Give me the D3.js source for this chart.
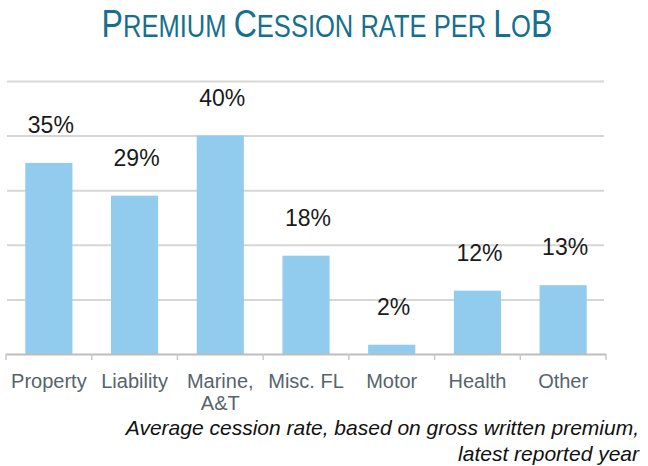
<!DOCTYPE html>
<html>
<head>
<meta charset="utf-8">
<script src="https://cdn.jsdelivr.net/npm/d3@7"></script>
<style>
  body { margin: 0; background: #fff; }
  svg { display: block; font-family: "Liberation Sans", Arial, sans-serif; }
</style>
</head>
<body>
<div id="chart"></div>
<script>
// data
const categories = ["Property", "Liability", "Marine,\nA&T", "Misc. FL", "Motor", "Health", "Other"];
const cessionRate = [0.35, 0.29, 0.40, 0.18, 0.017, 0.116, 0.126];
const gridTicks = [0, 0.1, 0.2, 0.3, 0.4, 0.5];
const titleParts = [["P", "REMIUM "], ["C", "ESSION RATE PER "], ["L", "O"], ["B", ""]];
const noteLines = ["Average cession rate, based on gross written premium,", "latest reported year"];

const width = 648, height = 466;
const margin = {left: 6, right: 42, top: 81, bottom: 112};

const svg = d3.select("#chart").append("svg")
    .attr("width", width)
    .attr("height", height);

let x = d3.scaleBand()
    .domain(categories)
    .range([margin.left, width - margin.right])
    .paddingInner(0.45)
    .paddingOuter(0.225);

let y = d3.scaleLinear()
    .domain([0, 0.5])
    .range([height - margin.bottom, margin.top]);

// title (small caps by hand), squeezed a bit to the reference width
let title = svg.append("text")
    .attr("text-anchor", "middle")
    .style("fill", "#176f8e");
titleParts.forEach(p => {
    title.append("tspan").style("font-size", "39px").text(p[0]);
    if (p[1]) title.append("tspan").style("font-size", "31px").text(p[1]);
});
let titleW = title.node().getComputedTextLength();
title.attr("transform", "translate(327,37) scale(" + (451 / titleW) + ",1)");

// gridlines
svg.append("g")
    .selectAll("line")
    .data(gridTicks.slice(1))
    .enter()
    .append("line")
    .attr("x1", margin.left + 1)
    .attr("x2", width - margin.right - 2)
    .attr("y1", d => y(d) + 0.5)
    .attr("y2", d => y(d) + 0.5)
    .style("stroke", "#d6d6d6")
    .style("stroke-width", 2);

// bars
svg.append("g")
    .selectAll("rect")
    .data(cessionRate)
    .enter()
    .append("rect")
    .attr("x", (d, i) => x(categories[i]))
    .attr("y", d => y(d))
    .attr("width", x.bandwidth())
    .attr("height", d => y(0) - y(d))
    .style("fill", "#91cbee");

// x axis
let axis = svg.append("g")
    .attr("transform", "translate(0," + y(0) + ")")
    .call(d3.axisBottom(x).tickSize(0).tickFormat(""));
axis.select(".domain").remove();
axis.append("line")
    .attr("x1", margin.left)
    .attr("x2", width - margin.right)
    .attr("y1", 0.5).attr("y2", 0.5)
    .style("stroke", "#bdbdbd")
    .style("stroke-width", 2);
let bounds = categories.map(c => x(c) - x.step() * x.paddingInner() / 2);
bounds.push(width - margin.right);
bounds[0] = margin.left;
axis.selectAll(".sep")
    .data(bounds)
    .enter()
    .append("line")
    .attr("x1", d => d).attr("x2", d => d)
    .attr("y1", 0).attr("y2", 6)
    .style("stroke", "#c8c8c8")
    .style("stroke-width", 1.5);

// category labels
categories.forEach(c => {
    let t = svg.append("text")
        .attr("x", x(c) + x.bandwidth() / 2)
        .attr("y", 388)
        .attr("text-anchor", "middle")
        .style("font-size", "20px")
        .style("fill", "#56646e");
    c.split("\n").forEach((line, j) => {
        t.append("tspan")
            .attr("x", x(c) + x.bandwidth() / 2)
            .attr("dy", j == 0 ? 0 : 22)
            .text(line);
    });
});

// value labels
svg.append("g")
    .selectAll("text")
    .data(cessionRate)
    .enter()
    .append("text")
    .attr("x", (d, i) => x(categories[i]) + x.bandwidth() / 2 + 2)
    .attr("y", d => y(d) - 30)
    .attr("text-anchor", "middle")
    .style("font-size", "23px")
    .style("fill", "#1a1a1a")
    .text(d => Math.round(d * 100) + "%");

// footnote
svg.append("g")
    .selectAll("text")
    .data(noteLines)
    .enter()
    .append("text")
    .attr("x", 639)
    .attr("y", (d, i) => 435 + i * 26)
    .attr("text-anchor", "end")
    .style("font-size", "21px")
    .style("font-style", "italic")
    .style("fill", "#111")
    .text(d => d);
</script>
</body>
</html>
